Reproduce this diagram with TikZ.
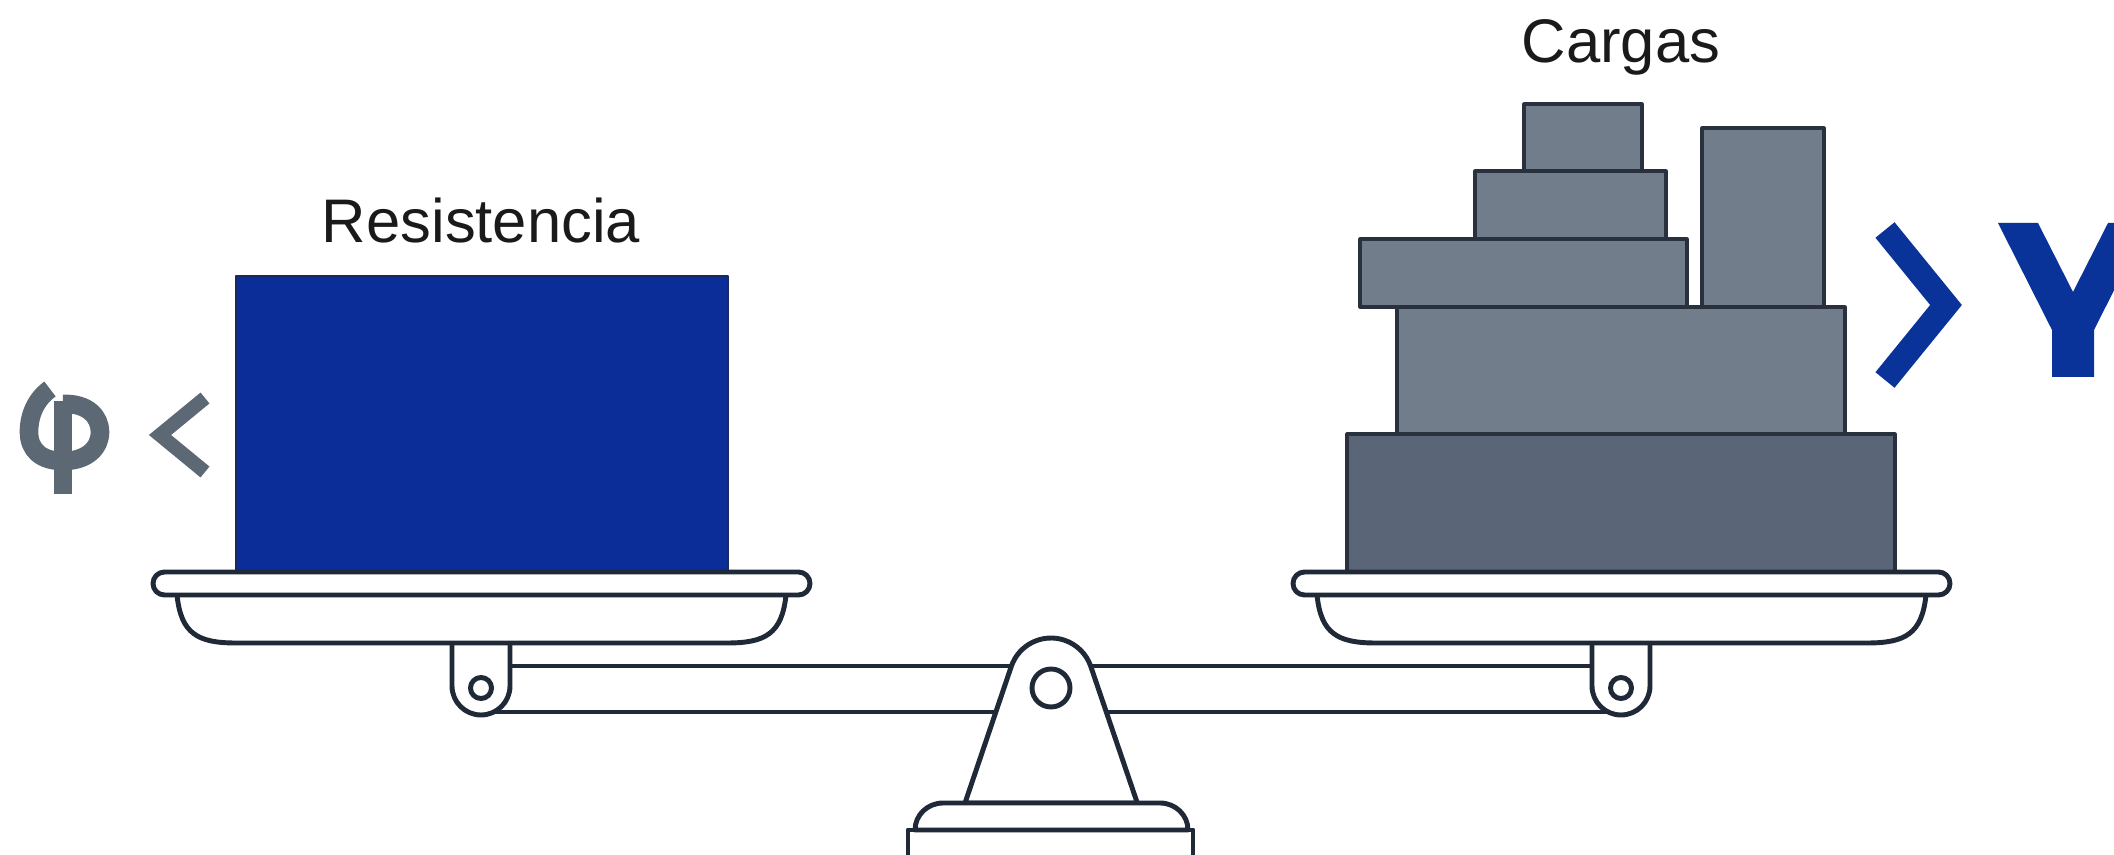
\documentclass[tikz,border=0pt]{standalone}
\usepackage{fontspec}
\setmainfont{Liberation Sans}
\definecolor{ink}{HTML}{1F2937}
\definecolor{resblue}{HTML}{0A2D98}
\definecolor{resedge}{HTML}{1B2860}
\definecolor{boxedge}{HTML}{28313D}
\definecolor{boxlight}{HTML}{717D8A}
\definecolor{boxdark}{HTML}{5A6678}
\definecolor{symgray}{HTML}{5D6875}
\definecolor{symblue}{HTML}{0A3399}
\definecolor{txt}{HTML}{1A1A1A}
\begin{document}
\begin{tikzpicture}[x=0.01cm,y=-0.01cm,line join=round,
  outl/.style={draw=ink,line width=1.4pt,fill=white},
  loadbox/.style={draw=boxedge,line width=0.9pt,fill=boxlight},
  phistroke/.style={draw=symgray,line width=5.3pt,line cap=butt},
  label/.style={font=\fontsize{17.5}{20}\selectfont,text=txt,inner sep=0pt,anchor=base}]
\useasboundingbox (0,0) rectangle (2114,855);
\fill[white] (0,0) rectangle (2114,855);

% resistance block
\draw[fill=resblue,draw=resedge,line width=0.5pt] (236,276) rectangle (728,572);
% loads
\draw[loadbox,fill=boxdark] (1347,434) rectangle (1895,572);
\draw[loadbox] (1397,307) rectangle (1845,434);
\draw[loadbox] (1360,239) rectangle (1687,307);
\draw[loadbox] (1702,128) rectangle (1824,307);
\draw[loadbox] (1475,171) rectangle (1666,239);
\draw[loadbox] (1524,104) rectangle (1642,171);

% beam
\draw[outl] (481,666) rectangle (1621,712);

% pans
\foreach \dx in {0,1140}{
  % hanger
  \draw[outl] ({452+\dx},643) -- ({452+\dx},686) arc[start angle=180,end angle=0,radius=29] -- ({510+\dx},643);
  \draw[ink,line width=1.4pt] ({481+\dx},688) circle[radius=10.5];
  % bowl
  \draw[outl] ({177+\dx},595) .. controls ({181+\dx},634) and ({198+\dx},643) .. ({236+\dx},643)
     -- ({727+\dx},643) .. controls ({765+\dx},643) and ({782+\dx},634) .. ({786+\dx},595);
  % rim
  \draw[outl] ({164.5+\dx},572) -- ({798.5+\dx},572) arc[start angle=270,end angle=450,radius=11.5]
     -- ({164.5+\dx},595) arc[start angle=90,end angle=270,radius=11.5] -- cycle;
}

% pivot
\draw[outl] (965,803) -- (1011.3,666.4) arc[start angle=198.9,end angle=341.1,radius=42] -- (1137.3,803) -- cycle;
\draw[ink,line width=1.4pt] (1051,688) circle[radius=19];
\draw[outl] (908,830) rectangle (1193,875);
\draw[outl] (915,830) arc[start angle=180,end angle=270,x radius=28,y radius=27] -- (1160,803)
   arc[start angle=270,end angle=360,x radius=28,y radius=27] -- cycle;

% labels
\node[label] (resist) at (481,243) {Resistencia};
\node[label] (cargas) at (1621,63) {Cargas};

% phi and <
\draw[phistroke] (63,401) -- (63,494);
\draw[phistroke] (63,404) .. controls (88,403) and (100,417) .. (100,432)
   .. controls (100,448) and (87,461) .. (63,461);
\draw[phistroke] (50,389) .. controls (36,399) and (29,415) .. (29,432)
   .. controls (29,450) and (41,461) .. (63,461);
\draw[symgray,line width=4pt,line join=miter,line cap=butt] (205,398) -- (160,435) -- (205,472);

% > and Y
\draw[symblue,line width=7pt,line join=miter,line cap=butt] (1885,230) -- (1946,305) -- (1885,380);
\fill[symblue] (1998,223) -- (2038,223) -- (2073,292) -- (2108,223) -- (2148,223) -- (2094,330)
   -- (2094,377) -- (2052,377) -- (2052,330) -- cycle;
\end{tikzpicture}
\end{document}
